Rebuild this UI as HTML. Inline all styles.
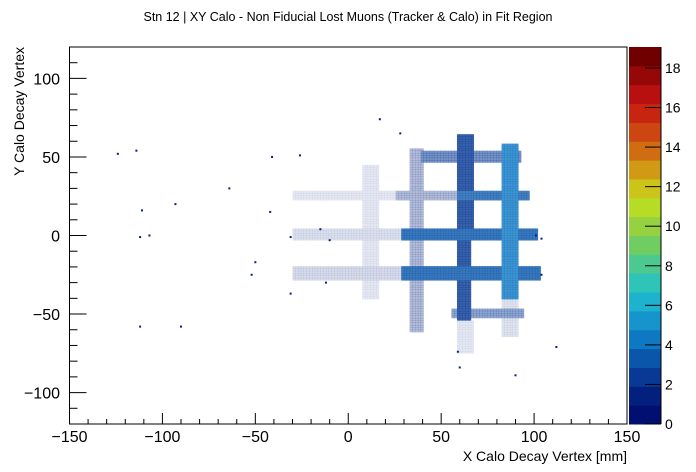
<!DOCTYPE html>
<html><head><meta charset="utf-8"><style>
html,body{margin:0;padding:0;background:#fff;}
svg{display:block;font-family:"Liberation Sans",Arial,sans-serif;}
</style></head><body>
<svg id="chart" width="696" height="472" viewBox="0 0 696 472">
<rect x="0" y="0" width="696" height="472" fill="#fff"/>
<text x="348" y="21" text-anchor="middle" font-size="12.5" fill="#000">Stn 12 | XY Calo - Non Fiducial Lost Muons (Tracker &amp; Calo) in Fit Region</text>
<g id="plot"></g>
<g id="axes"></g>
<g id="cbar"></g>
<text x="627" y="461" text-anchor="end" font-size="14" fill="#000">X Calo Decay Vertex [mm]</text>
<text transform="translate(24,47) rotate(-90)" text-anchor="end" font-size="14" fill="#000">Y Calo Decay Vertex</text>
</svg>
<script>
// Bands of the 2D histogram (mm): x0,x1,y0,y1, typical bin count, fill fraction
const bandX0 = [39, 59, 28, 28, 55, 25, 59, 8, 33, 58, 83, -30, -30, -30, 59, 83];
const bandX1 = [93, 98, 102, 104, 95, 59, 66, 16, 41, 67, 91, 28, 28, 28, 67, 91];
const bandY0 = [47, 22, -3, -28, -53, 22, -54, -40, -62, -3, -41, 22, -3, -28, -75, -65];
const bandY1 = [54, 29, 4, -20, -46, 29, 64, 45, 55, 64, 59, 29, 4, -20, -54, -41];
const bandCount = [2, 3, 3, 3, 2, 1, 2, 1, 1, 2, 4, 1, 1, 1, 1, 1];
const bandFill = [0.55, 0.75, 0.8, 0.8, 0.45, 0.3, 0.8, 0.1, 0.3, 0.8, 0.8, 0.1, 0.14, 0.16, 0.1, 0.12];
// Isolated points (mm)
const ptX = [-124, -114, -111, -112, -107, -93, -90, -112, -64, -41, -26, -42, -52, -50, -31, -12, -31, -15, -10, 112, 104, 59, 90, 17, 28, 60, 101, 104];
const ptY = [52, 54, 16, -1, 0, 20, -58, -58, 30, 50, 51, 15, -25, -17, -37, -30, -1, 4, -3, -71, -2, -74, -89, 74, 65, -84, 0, -25];
// Color bar
const paletteColors = ["#000f70","#04207f","#083a95","#0a56aa","#0f78c3","#1595cb","#1db2cd","#2fc4b8","#4cc98e","#6fcd61","#96d140","#b7dc26","#cdc41a","#d09a14","#d06c12","#cd4510","#c82510","#b81010","#960808","#700000"];
const zTicks = [0,2,4,6,8,10,12,14,16,18];
const xTicks = [-150,-100,-50,0,50,100,150];
const yTicks = [-100,-50,0,50,100];

const NS = "http://www.w3.org/2000/svg";
const L=69.5, R=627, T=47, B=424;
const xMin=-150, xMax=150, yMin=-120, yMax=120, zMax=19.06;
const sx = v => L + (v - xMin) / (xMax - xMin) * (R - L);
const sy = v => B - (v - yMin) / (yMax - yMin) * (B - T);
const zc = z => paletteColors[Math.max(0, Math.min(19, Math.floor(z / zMax * 20)))];
function mk(tag, attrs, parent){const e=document.createElementNS(NS,tag);for(const k in attrs)e.setAttribute(k,attrs[k]);parent.appendChild(e);return e;}

const plot=document.getElementById('plot');
const binW=1.5;
for(let x=xMin; x<xMax; x+=binW){
  for(let y=yMin; y<yMax; y+=binW){
    const cx=x+binW/2, cyv=y+binW/2;
    let best=-1, bestScore=-1;
    for(let i=0;i<bandX0.length;i++){
      if(cx>=bandX0[i]&&cx<=bandX1[i]&&cyv>=bandY0[i]&&cyv<=bandY1[i]){
        const s=bandCount[i]*bandFill[i];
        if(s>bestScore){bestScore=s;best=i;}
      }
    }
    if(best<0) continue;
    const r=mk('rect',{x:sx(x),y:sy(y+binW),width:sx(x+binW)-sx(x)+0.3,height:sy(y)-sy(y+binW)+0.3,fill:zc(bandCount[best]),'fill-opacity':bandFill[best]},plot);
    
    
  }
}
for(let i=0;i<ptX.length;i++){
  const r=mk('rect',{x:sx(ptX[i])-1,y:sy(ptY[i])-1,width:2,height:2,fill:zc(1)},plot);
  
  
}

const axes=document.getElementById('axes');
const fr=mk('rect',{x:L,y:T,width:R-L,height:B-T,fill:'none',stroke:'#000','stroke-width':1},axes);


for(let v=xMin; v<=xMax; v+=10){
  const maj = v%50===0;
  mk('line',{x1:sx(v),x2:sx(v),y1:B,y2:B-(maj?11:5),stroke:'#000'},axes);
}
for(let v=-110; v<=110; v+=10){
  const maj = v%50===0;
  mk('line',{x1:L,x2:L+(maj?17:8),y1:sy(v),y2:sy(v),stroke:'#000'},axes);
}
xTicks.forEach(v=>{
  const t=mk('text',{x:sx(v),y:442,'text-anchor':'middle','font-size':16},axes);
  t.textContent = v<0 ? '\u2212'+(-v) : String(v);
  
  
});
yTicks.forEach(v=>{
  const t=mk('text',{x:60,y:sy(v)+6,'text-anchor':'end','font-size':16},axes);
  t.textContent = v<0 ? '\u2212'+(-v) : String(v);
  
  
});

const cbar=document.getElementById('cbar');
const cL=629, cR=661;
const cy = z => B - z / zMax * (B - T);
paletteColors.forEach((c,i)=>{
  const y1=cy((i+1)*zMax/20), y0=cy(i*zMax/20);
  const r=mk('rect',{x:cL,y:y1,width:cR-cL,height:y0-y1+0.5,fill:c},cbar);
  
  
});
mk('line',{x1:cR,x2:cR,y1:T,y2:B,stroke:'#000'},cbar);
zTicks.forEach(z=>{
  mk('line',{x1:cR-16,x2:cR,y1:cy(z),y2:cy(z),stroke:'#000'},cbar);
  const t=mk('text',{x:665,y:cy(z)+5,'font-size':14},cbar);
  t.textContent=String(z);
  
  
});
</script>
</body></html>
